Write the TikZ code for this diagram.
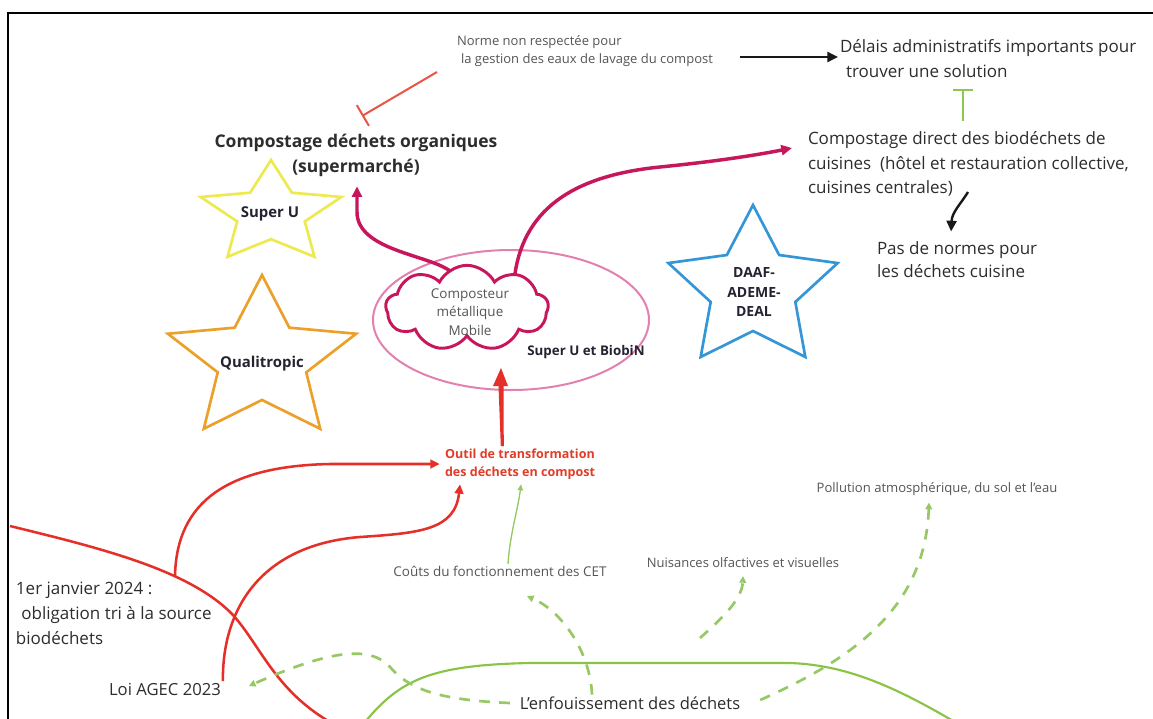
\documentclass[tikz,border=0pt]{standalone}
\usepackage{fontspec}
\setmainfont{Open Sans}
\usetikzlibrary{shapes.geometric,shapes.symbols,arrows.meta,calc}
\definecolor{ctxt}{RGB}{45,45,45}
\definecolor{ctxtd}{RGB}{35,35,50}
\definecolor{ctxtl}{RGB}{85,85,85}
\definecolor{cmag}{RGB}{200,22,92}
\definecolor{cell}{RGB}{226,128,176}
\definecolor{cred}{RGB}{228,48,40}
\definecolor{cout}{RGB}{226,60,40}
\definecolor{cystar}{RGB}{236,234,78}
\definecolor{costar}{RGB}{236,160,42}
\definecolor{cbstar}{RGB}{52,150,215}
\definecolor{cgsol}{RGB}{138,196,68}
\definecolor{cgdash}{RGB}{150,200,100}
\definecolor{credT}{RGB}{232,85,70}
\definecolor{cgT}{RGB}{140,200,80}
\newcommand\drawstar[6]{%
  \foreach \k in {0,...,4}{%
    \coordinate (sto\k) at ({#2+#4*cos(90+72*\k)},{#3-#5*sin(90+72*\k)});
    \coordinate (sti\k) at ({#2+#6*#4*cos(126+72*\k)},{#3-#6*#5*sin(126+72*\k)});
  }
  \draw[#1] (sto0)--(sti0)--(sto1)--(sti1)--(sto2)--(sti2)--(sto3)--(sti3)--(sto4)--(sti4)--cycle;}
\begin{document}
\begin{tikzpicture}[x=0.75pt,y=-0.75pt,
  every node/.style={inner sep=0pt,outer sep=0pt},
  lbl/.style={text=ctxt,align=left},
  lbll/.style={text=ctxtl,align=center},
  starlbl/.style={text=ctxtd,align=center},
  magarr/.style={draw=cmag,line width=2.6pt,-{Triangle[length=8pt,width=7.5pt]}},
  redarr/.style={draw=cred,line width=1.9pt,-{Triangle[length=7pt,width=6.5pt]}},
  redline/.style={draw=cred,line width=1.9pt},
  blkarr/.style={draw=black!90,line width=1.8pt,-{Triangle[length=8pt,width=7.5pt]}},
  gdarr/.style={draw=cgdash,line width=2pt,dash pattern=on 8pt off 7pt,-{Triangle[length=5pt,width=5pt]}},
  gthin/.style={draw=cgdash,line width=1pt,-{Triangle[length=4.5pt,width=4pt]}},
  gline/.style={draw=cgsol,line width=1.6pt},
  tred/.style={draw=credT,line width=1.5pt,-{Bar[width=18pt,line width=1.5pt]}},
  tgreen/.style={draw=cgT,line width=1.5pt,-{Bar[width=15pt,line width=1.5pt]}},
  starline/.style={line width=2pt,line join=miter}
]
\useasboundingbox (0,0) rectangle (1153,718);
\fill[white] (0,0) rectangle (1153,718);
\draw[line width=2pt] (8,720) -- (8,13) -- (1153,13);

% text nodes
\node[lbll,anchor=west,align=left,font=\fontsize{9.75}{13.5}\selectfont] (norme) at (457,51) {Norme non respectée pour\\\hspace*{3pt}la gestion des eaux de lavage du compost};
\node[lbl,anchor=west,font=\fontsize{12.75}{18.75}\selectfont] (delais) at (840,59) {Délais administratifs importants pour\\\hspace*{4.5pt}trouver une solution};
\node[lbl,align=center,font=\bfseries\fontsize{13.1}{18.75}\selectfont] (compo) at (356,155) {Compostage déchets organiques\\(supermarché)};
\node[lbl,anchor=west,font=\fontsize{12.75}{18.4}\selectfont] (cdirect) at (808,164) {Compostage direct des biodéchets de\\cuisines~ (hôtel et restauration collective,\\cuisines centrales)};
\node[lbl,anchor=west,font=\fontsize{12.75}{17.25}\selectfont] (pas) at (877,259.5) {Pas de normes pour\\les déchets cuisine};

% stars
\drawstar{starline,draw=cystar}{271}{213.5}{74}{53.5}{0.48}
\drawstar{starline,draw=costar}{262}{360}{99}{85}{0.47}
\drawstar{starline,draw=cbstar}{753}{289}{89}{84}{0.5}
\node[starlbl,font=\bfseries\fontsize{11.2}{13}\selectfont] (superu) at (270,214) {Super U};
\node[starlbl,font=\bfseries\fontsize{11.2}{13}\selectfont] (quali) at (262,364) {Qualitropic};
\node[starlbl,font=\bfseries\fontsize{10.5}{14.6}\selectfont] (daaf) at (754,292) {DAAF-\\ADEME-\\DEAL};

% ellipse and cloud
\node[ellipse,draw=cell,line width=1.5pt,minimum width=207pt,minimum height=105pt] (ell) at (511,320) {};
\node[cloud,cloud puffs=9,cloud puff arc=125,cloud ignores aspect,draw=cmag,line width=2.2pt,fill=white,minimum width=122pt,minimum height=64pt] (cloud) at (467,308) {};
\node[lbll,font=\fontsize{10.1}{13.9}\selectfont] (cloudtxt) at (470,312) {Composteur\\métallique\\Mobile};
\draw[magarr] (cloud.115) .. controls +(-22,-16) and +(0,38) .. (357,212) -- ([shift={(1,10)}]compo.south);
\draw[magarr] (cloud.35) .. controls +(10,-70) and +(-80,8) .. (660,167) .. controls +(50,-5) and +(-40,8) .. ([shift={(-16,-16)}]cdirect.west);
\node[starlbl,font=\bfseries\fontsize{10}{12}\selectfont] (sub) at (586,352) {Super U et BiobiN};

% outil
\node[lbl,align=center,text=cout,font=\bfseries\fontsize{9.4}{13.5}\selectfont] (outil) at (520,464) {Outil de transformation\\des déchets en compost};
\coordinate (rb) at (503,446);
\fill[cred] ([shift={(-2.2,0)}]rb) -- ([shift={(-4.5,-60)}]rb) -- ([shift={(-10,-60)}]rb) -- ([shift={(-2,-78)}]rb) -- ([shift={(5,-60)}]rb) -- ([shift={(0.5,-60)}]rb) -- ([shift={(0.8,0)}]rb) -- cycle;

% bottom texts
\node[lbll,font=\fontsize{10.1}{12}\selectfont] (couts) at (500,571) {Coûts du fonctionnement des CET};
\node[lbll,font=\fontsize{9.75}{12}\selectfont] (nuis) at (743,563) {Nuisances olfactives et visuelles};
\node[lbll,font=\fontsize{9.8}{12}\selectfont] (poll) at (937,489) {Pollution atmosphérique, du sol et l'eau};
\node[lbl,anchor=west,font=\fontsize{12.75}{18.75}\selectfont] (jan) at (16,613) {1er janvier 2024 :\\\hspace*{4pt}obligation tri à la source\\biodéchets};
\node[lbl,font=\fontsize{12.5}{14}\selectfont] (loi) at (165,689) {Loi AGEC 2023};
\node[lbl,font=\fontsize{12.4}{14}\selectfont] (enf) at (630,703) {L'enfouissement des déchets};

% top connectors
\draw[blkarr] ([shift={(27,6)}]norme.east) -- ([shift={(-2,-2)}]delais.west);
\coordinate (gt1) at (963,121);
\coordinate (gt2) at (963,89);
\draw[tgreen] (gt1) -- (gt2);
\coordinate (rtend) at (362,116);
\draw[tred] ([shift={(-20,21)}]norme.west) -- (rtend);
\coordinate (bk1) at (968,192);
\draw[blkarr] (bk1) .. controls (960,205) and (952,212) .. ([shift={(-6,-10)}]pas.north);

% red curves
\coordinate (rs) at (10,526);
\coordinate (rend) at (330,722);
\draw[redline] (rs) .. controls (100,548) and (190,570) .. (233,615) .. controls (260,645) and (275,690) .. (rend);
\coordinate (jbr) at (175,577);
\draw[redarr] (jbr) .. controls (176,500) and (230,466) .. (330,464) -- ([xshift=-4pt]outil.west);
\draw[redarr] ([shift={(2,-8)}]loi.east) .. controls (222,610) and (260,545) .. (360,537) .. controls (420,533) and (455,530) .. ([shift={(15,5)}]outil.south west);

% green
\coordinate (gs1) at (365,722);
\coordinate (gs2) at (955,722);
\draw[gline] (gs1) .. controls (400,680) and (430,665) .. (530,663) -- (790,663) .. controls (850,665) and (900,690) .. (gs2);
\draw[gthin] ([shift={(8,-2)}]couts.north) .. controls +(2,-30) and +(-3,25) .. ([shift={(1,5)}]outil.south);
\draw[gdarr] ([shift={(-38,-2)}]enf.north) .. controls (590,650) and (560,610) .. ([shift={(27,20)}]couts.south);
\draw[gdarr] ([shift={(-10,0)}]enf.west) .. controls (440,700) and (410,690) .. (390,667) .. controls (370,645) and (330,650) .. ([shift={(28,-3)}]loi.east);
\coordinate (nst) at (700,638);
\draw[gdarr] (nst) .. controls (720,620) and (742,600) .. ([shift={(0,8)}]nuis.south);
\draw[gdarr] ([shift={(20,-3)}]enf.east) .. controls (850,660) and (925,610) .. ([shift={(-8,7)}]poll.south);
\end{tikzpicture}
\end{document}
